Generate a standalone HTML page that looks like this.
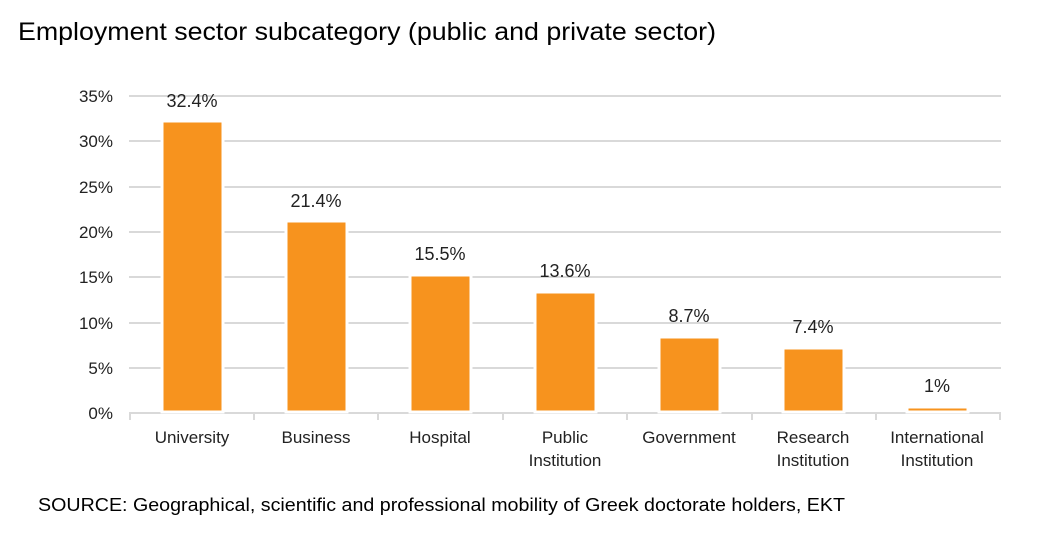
<!DOCTYPE html><html><head><style>body{margin:0;background:#fff;}svg{display:block}</style></head><body>
<svg width="1053" height="540" xmlns="http://www.w3.org/2000/svg" font-family="Liberation Sans, sans-serif">
<text x="18" y="40" font-size="25" fill="#000" textLength="698" lengthAdjust="spacingAndGlyphs">Employment sector subcategory (public and private sector)</text>
<g stroke="#d9d9d9" stroke-width="2">
<line x1="129" x2="1001" y1="96" y2="96"/><line x1="129" x2="1001" y1="141" y2="141"/><line x1="129" x2="1001" y1="187" y2="187"/><line x1="129" x2="1001" y1="232" y2="232"/><line x1="129" x2="1001" y1="277" y2="277"/><line x1="129" x2="1001" y1="323" y2="323"/><line x1="129" x2="1001" y1="368" y2="368"/><line x1="129" x2="1001" y1="413" y2="413"/>
<line x1="130" x2="130" y1="413" y2="420"/><line x1="254" x2="254" y1="413" y2="420"/><line x1="378" x2="378" y1="413" y2="420"/><line x1="503" x2="503" y1="413" y2="420"/><line x1="627" x2="627" y1="413" y2="420"/><line x1="752" x2="752" y1="413" y2="420"/><line x1="876" x2="876" y1="413" y2="420"/><line x1="1000" x2="1000" y1="413" y2="420"/>
</g>
<g fill="#F7931E" stroke="#fff" stroke-width="3">
<rect x="162" y="121" width="61" height="291"/><rect x="286" y="221" width="61" height="191"/><rect x="410" y="275" width="61" height="137"/><rect x="535" y="292" width="61" height="120"/><rect x="659" y="337" width="61" height="75"/><rect x="783" y="348" width="61" height="64"/><rect x="907" y="407" width="61" height="5"/>
</g>
<g font-size="17" fill="#222" text-anchor="end">
<text x="113" y="102">35%</text><text x="113" y="147">30%</text><text x="113" y="193">25%</text><text x="113" y="238">20%</text><text x="113" y="283">15%</text><text x="113" y="329">10%</text><text x="113" y="374">5%</text><text x="113" y="419">0%</text>
</g>
<g font-size="18" fill="#222" text-anchor="middle">
<text x="192" y="107">32.4%</text><text x="316" y="207">21.4%</text><text x="440" y="260">15.5%</text><text x="565" y="277">13.6%</text><text x="689" y="322">8.7%</text><text x="813" y="333">7.4%</text><text x="937" y="392">1%</text>
</g>
<g font-size="17" fill="#222" text-anchor="middle">
<text x="192" y="443">University</text><text x="316" y="443">Business</text><text x="440" y="443">Hospital</text><text x="565" y="443">Public</text><text x="565" y="466">Institution</text><text x="689" y="443">Government</text><text x="813" y="443">Research</text><text x="813" y="466">Institution</text><text x="937" y="443">International</text><text x="937" y="466">Institution</text>
</g>
<text x="38" y="511" font-size="18" fill="#000" textLength="807" lengthAdjust="spacingAndGlyphs">SOURCE: Geographical, scientific and professional mobility of Greek doctorate holders, EKT</text>
</svg></body></html>
